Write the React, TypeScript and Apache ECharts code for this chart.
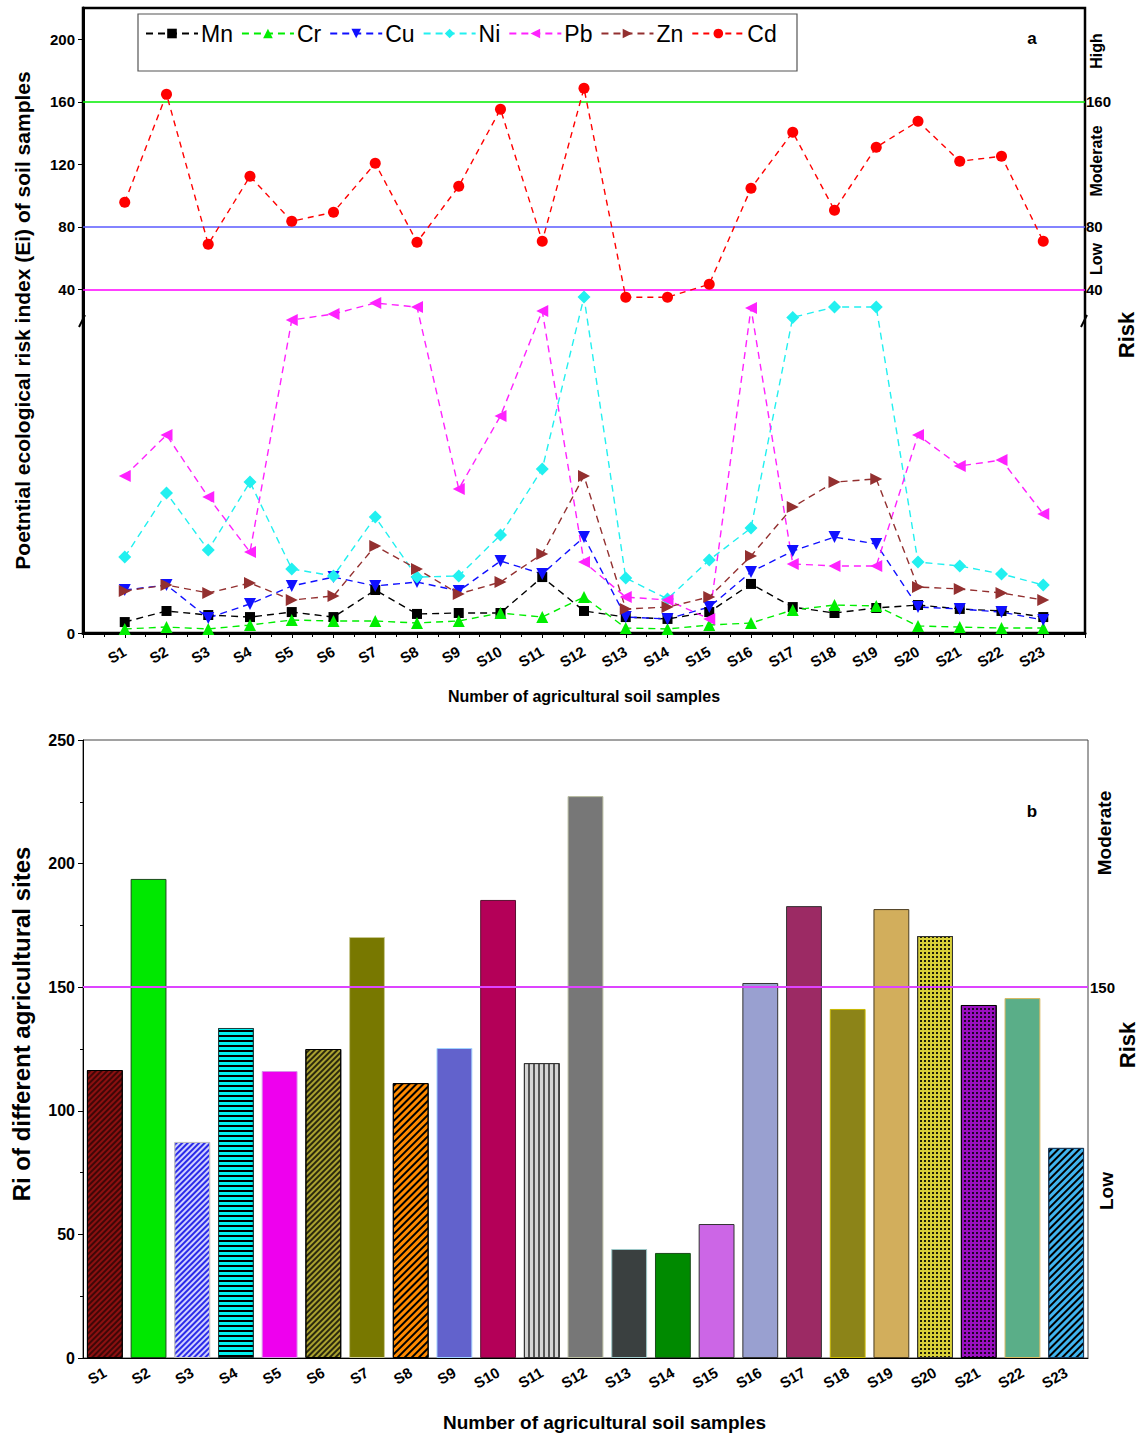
import React, { useEffect, useRef } from 'react';
import * as echarts from 'echarts';

const categories = ['S1','S2','S3','S4','S5','S6','S7','S8','S9','S10','S11','S12','S13','S14','S15','S16','S17','S18','S19','S20','S21','S22','S23'];

// Ei values (lower break segment, 0-20 scale)
const mn = [0.70,1.41,1.15,1.02,1.34,1.02,2.75,1.22,1.28,1.28,3.58,1.41,1.02,0.90,1.34,3.14,1.66,1.28,1.60,1.79,1.54,1.41,1.02];
const cr = [0.26,0.38,0.26,0.51,0.83,0.77,0.77,0.64,0.77,1.28,1.02,2.30,0.32,0.26,0.51,0.64,1.47,1.79,1.73,0.45,0.38,0.32,0.32];
const cu = [2.75,3.07,0.96,1.86,3.01,3.58,3.01,3.26,2.69,4.61,3.78,6.14,1.02,0.90,1.66,3.90,5.25,6.14,5.70,1.66,1.54,1.34,0.83];
const ni = [4.86,8.96,5.31,9.66,4.10,3.65,7.42,3.58,3.65,6.27,10.5,21.5,3.52,2.18,4.67,6.72,20.2,20.86,20.86,4.54,4.29,3.78,3.07];
const pb = [10.05,12.67,8.70,5.18,20.03,20.42,21.12,20.86,9.22,13.89,20.61,4.54,2.30,2.11,0.90,20.8,4.42,4.29,4.29,12.67,10.69,11.07,7.62];
const zn = [2.69,3.07,2.56,3.20,2.11,2.37,5.57,4.10,2.50,3.26,5.06,10.05,1.54,1.66,2.30,4.93,8.06,9.66,9.86,2.94,2.82,2.56,2.11];
// Cd (upper break segment)
const cd = [95.7,164.8,68.8,112.3,83.5,89.3,120.6,70.1,105.9,155.2,70.7,168.6,34.9,34.9,43.2,104.6,140.5,90.6,130.9,147.5,121.9,125.1,70.7];
// Ri
const ri = [116.5,193.8,87.4,133.5,116.1,125.0,170.3,111.2,125.4,185.3,119.3,227.3,44.1,42.5,54.2,151.7,182.8,141.2,181.6,170.7,142.8,145.6,85.0];

const topTicks = [40, 80, 120, 160, 200];
const topRiskLines = [
  { value: 160, color: '#00ee00' },
  { value: 80, color: '#5a5aff' },
  { value: 40, color: '#ff00ff' },
];
const bottomRiskLine = 150;

const FONT = 'Arial, "Liberation Sans", sans-serif';

const diag = (color: string, gap: number, w = 1.2) => ({ symbol: 'rect', symbolSize: 1, dashArrayX: [1, 0], dashArrayY: [w, gap], rotation: -Math.PI / 4, color });
const horiz = (color: string, gap: number, w = 1.3) => ({ symbol: 'rect', symbolSize: 1, dashArrayX: [1, 0], dashArrayY: [w, gap], rotation: 0, color });
const vert = (color: string, gap: number, w = 1.2) => ({ symbol: 'rect', symbolSize: 1, dashArrayX: [1, 0], dashArrayY: [w, gap], rotation: Math.PI / 2, color });
const dots = (color: string, size: number, gap: number) => ({ symbol: 'rect', symbolSize: 1, dashArrayX: [size, gap], dashArrayY: [size, gap], rotation: 0, color });

const barStyles: any[] = [
  { color: '#8c1010', borderColor: '#000', decal: diag('rgba(0,0,0,0.55)', 1.3) },
  { color: '#00e800', borderColor: '#1a4a1a' },
  { color: '#d0d0ff', borderColor: '#c0c0c0', decal: diag('#2a2ae8', 1.2, 1.4) },
  { color: '#00f0f0', borderColor: '#1a4040', decal: horiz('#000', 2.6) },
  { color: '#ee00ee', borderColor: '#d890e8' },
  { color: '#aaa230', borderColor: '#000', decal: diag('rgba(0,0,0,0.75)', 1.3) },
  { color: '#787800', borderColor: '#c8c890' },
  { color: '#ff8a00', borderColor: '#000', decal: diag('#000', 2.4) },
  { color: '#6262cc', borderColor: '#a0d0ff' },
  { color: '#b40058', borderColor: '#5a1030' },
  { color: '#d4d4d4', borderColor: '#333', decal: vert('#555', 2.4) },
  { color: '#777777', borderColor: '#b8bca0' },
  { color: '#3a4040', borderColor: '#9cc8c8' },
  { color: '#008a00', borderColor: '#1a4a1a' },
  { color: '#cc66e6', borderColor: '#333' },
  { color: '#99a0d0', borderColor: '#333' },
  { color: '#9c2a64', borderColor: '#333' },
  { color: '#8c8418', borderColor: '#c8b800' },
  { color: '#d2ae5c', borderColor: '#4a3c20' },
  { color: '#d8d038', borderColor: '#333', decal: dots('rgba(0,0,0,0.85)', 1.8, 1.2) },
  { color: '#9a10c0', borderColor: '#000', decal: dots('rgba(0,0,0,0.8)', 1.6, 1.4) },
  { color: '#5aae88', borderColor: '#d8b860' },
  { color: '#40b4f0', borderColor: '#1a3a5a', decal: diag('#000', 2.4) },
];

const metalSeries = [
  { name: 'Mn', data: mn, color: '#000000', symbol: 'rect', size: 10, rotate: 0 },
  { name: 'Cr', data: cr, color: '#00ee00', symbol: 'triangle', size: 12, rotate: 0 },
  { name: 'Cu', data: cu, color: '#1010ff', symbol: 'triangle', size: 12, rotate: 180 },
  { name: 'Ni', data: ni, color: '#22f0f0', symbol: 'diamond', size: 13, rotate: 0 },
  { name: 'Pb', data: pb, color: '#ff22ff', symbol: 'triangle', size: 12, rotate: 90 },
  { name: 'Zn', data: zn, color: '#933030', symbol: 'triangle', size: 12, rotate: -90 },
];

function buildOption(): any {
  const series: any[] = metalSeries.map((s) => ({
    name: s.name,
    type: 'line',
    xAxisIndex: 0,
    yAxisIndex: 1,
    data: categories.map((_, i) => [i + 1, s.data[i]]),
    symbol: s.symbol,
    symbolSize: s.size,
    symbolRotate: s.rotate,
    itemStyle: { color: s.color },
    lineStyle: { color: s.color, width: 1.4, type: [7, 5] },
    z: 3,
  }));
  series.push({
    name: 'Cd',
    type: 'line',
    xAxisIndex: 0,
    yAxisIndex: 0,
    data: categories.map((_, i) => [i + 1, cd[i]]),
    symbol: 'circle',
    symbolSize: 11,
    itemStyle: { color: '#ff0000' },
    lineStyle: { color: '#ff0000', width: 1.4, type: [6, 5] },
    z: 4,
    markLine: {
      silent: true,
      symbol: ['none', 'none'],
      z: 1,
      data: topRiskLines.map((r) => ({
        yAxis: r.value,
        lineStyle: { color: r.color, width: 1.5, type: 'solid' },
        label: { show: true, position: 'end', distance: 1, formatter: String(r.value), color: '#000', fontWeight: 'bold', fontSize: 15, fontFamily: FONT },
      })),
    },
  });
  series.push({
    name: 'Ri',
    type: 'bar',
    xAxisIndex: 1,
    yAxisIndex: 2,
    barWidth: '82%',
    data: ri.map((v, i) => ({ value: v, itemStyle: { borderWidth: 1, ...barStyles[i] } })),
    markLine: {
      silent: true,
      symbol: ['none', 'none'],
      data: [{
        yAxis: bottomRiskLine,
        lineStyle: { color: '#dd44ff', width: 2, type: 'solid' },
        label: { show: true, position: 'end', distance: 2, formatter: String(bottomRiskLine), color: '#000', fontWeight: 'bold', fontSize: 15, fontFamily: FONT },
      }],
    },
  });

  const rotText = (text: string, x: number, y: number, size: number) => ({
    type: 'text', x, y, rotation: Math.PI / 2,
    style: { text, fill: '#000', font: `bold ${size}px ${FONT}`, textAlign: 'center', textVerticalAlign: 'middle' },
  });

  return {
    animation: false,
    backgroundColor: '#fff',
    textStyle: { fontFamily: FONT },
    legend: {
      left: 140,
      top: 17,
      itemWidth: 52,
      itemHeight: 12,
      itemGap: 8,
      data: ['Mn', 'Cr', 'Cu', 'Ni', 'Pb', 'Zn', 'Cd'],
      textStyle: { fontSize: 23, color: '#000', fontFamily: FONT, padding: [0, 0, 0, -2] },
    },
    grid: [
      { left: 83, top: 8, width: 1002, height: 625, show: true, borderColor: '#000', borderWidth: 2.5, backgroundColor: 'transparent' },
      { left: 83, top: 740, width: 1005, height: 618, show: true, borderColor: '#444', borderWidth: 1, backgroundColor: 'transparent' },
    ],
    xAxis: [
      {
        gridIndex: 0,
        type: 'value',
        min: 0,
        max: 24,
        interval: 1,
        splitLine: { show: false },
        axisLine: { onZero: false, lineStyle: { color: '#000', width: 3 } },
        axisTick: { length: 5, lineStyle: { color: '#000', width: 1 } },
        minorTick: { show: true, splitNumber: 2, length: 4, lineStyle: { color: '#000' } },
        axisLabel: {
          formatter: (v: number) => categories[v - 1] ?? '',
          rotate: 30,
          margin: 17,
          color: '#000',
          fontWeight: 'bold',
          fontSize: 15,
          fontFamily: FONT,
        },
        name: 'Number of agricultural soil samples',
        nameLocation: 'middle',
        nameGap: 55,
        nameTextStyle: { color: '#000', fontWeight: 'bold', fontSize: 16, fontFamily: FONT },
      },
      {
        gridIndex: 1,
        type: 'category',
        data: categories,
        axisLine: { onZero: false, lineStyle: { color: '#000', width: 1 } },
        axisTick: { alignWithLabel: true, length: 5, lineStyle: { color: '#000' } },
        axisLabel: {
          interval: 0,
          rotate: 30,
          margin: 13,
          color: '#000',
          fontWeight: 'bold',
          fontSize: 15,
          fontFamily: FONT,
        },
        name: 'Number of agricultural soil samples',
        nameLocation: 'middle',
        nameGap: 55,
        nameTextStyle: { color: '#000', fontWeight: 'bold', fontSize: 19, fontFamily: FONT, padding: [0, 0, 0, 38] },
      },
      {
        gridIndex: 1,
        type: 'category',
        data: categories,
        position: 'bottom',
        axisLine: { show: false, onZero: false },
        axisTick: { alignWithLabel: false, length: 3, lineStyle: { color: '#000' } },
        axisLabel: { show: false },
      },
    ],
    yAxis: [
      {
        gridIndex: 0,
        type: 'value',
        min: -180,
        max: 220,
        position: 'left',
        splitLine: { show: false },
        axisLine: { show: true, onZero: false, lineStyle: { color: '#000', width: 3 } },
        axisTick: { show: true, length: 5, customValues: topTicks, lineStyle: { color: '#000' } },
        axisLabel: { customValues: topTicks, color: '#000', fontWeight: 'bold', fontSize: 15, fontFamily: FONT, margin: 8 },
        name: 'Poetntial ecological risk index (Ei) of soil samples',
        nameLocation: 'middle',
        nameGap: 50,
        nameTextStyle: { color: '#000', fontWeight: 'bold', fontSize: 21, fontFamily: FONT },
      },
      {
        gridIndex: 0,
        type: 'value',
        min: 0,
        max: 40,
        position: 'left',
        splitLine: { show: false },
        axisLine: { show: false, onZero: false },
        axisTick: { show: true, length: 5, customValues: [0], lineStyle: { color: '#000' } },
        axisLabel: { customValues: [0], color: '#000', fontWeight: 'bold', fontSize: 15, fontFamily: FONT, margin: 8 },
      },
      {
        gridIndex: 1,
        type: 'value',
        min: 0,
        max: 250,
        interval: 50,
        position: 'left',
        splitLine: { show: false },
        axisLine: { show: true, onZero: false, lineStyle: { color: '#000', width: 1 } },
        axisTick: { show: true, length: 5, lineStyle: { color: '#000' } },
        minorTick: { show: true, splitNumber: 2, length: 3, lineStyle: { color: '#000' } },
        axisLabel: { color: '#000', fontWeight: 'bold', fontSize: 16, fontFamily: FONT, margin: 8 },
        name: 'Ri of different agricultural sites',
        nameLocation: 'middle',
        nameGap: 50,
        nameTextStyle: { color: '#000', fontWeight: 'bold', fontSize: 24, fontFamily: FONT, padding: [0, 0, 0, 50] },
      },
    ],
    graphic: [
      { type: 'rect', shape: { x: 138, y: 14, width: 659, height: 57 }, style: { fill: 'none', stroke: '#555', lineWidth: 1.2 }, z: 10 },
      { type: 'text', x: 1032, y: 38, style: { text: 'a', fill: '#000', font: `bold 17px ${FONT}`, textAlign: 'center', textVerticalAlign: 'middle' } },
      { type: 'text', x: 1032, y: 811, style: { text: 'b', fill: '#000', font: `bold 17px ${FONT}`, textAlign: 'center', textVerticalAlign: 'middle' } },
      rotText('High', 1096, 51, 16),
      rotText('Moderate', 1096, 161, 16),
      rotText('Low', 1096, 259, 16),
      rotText('Risk', 1126, 335, 22),
      rotText('Moderate', 1104, 833, 19),
      rotText('Low', 1106, 1191, 19),
      rotText('Risk', 1127, 1045, 22),
      { type: 'line', shape: { x1: 79, y1: 327, x2: 85, y2: 315 }, style: { stroke: '#000', lineWidth: 2 } },
      { type: 'line', shape: { x1: 1081, y1: 327, x2: 1087, y2: 315 }, style: { stroke: '#000', lineWidth: 2 } },
    ],
    series,
  };
}

export default function App() {
  const ref = useRef<HTMLDivElement>(null);
  useEffect(() => {
    if (!ref.current) return;
    const chart = echarts.init(ref.current, null, { renderer: 'svg' });
    chart.setOption(buildOption());
    return () => chart.dispose();
  }, []);
  return <div ref={ref} style={{ position: 'absolute', left: 0, top: 0, width: 1139, height: 1437 }} />;
}
